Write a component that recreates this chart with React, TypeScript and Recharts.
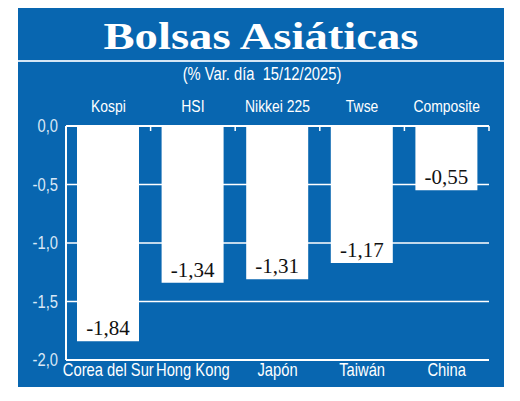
import React from 'react';
import {
  BarChart,
  Bar,
  XAxis,
  YAxis,
  CartesianGrid,
  LabelList,
} from 'recharts';

const indices = ['Kospi', 'HSI', 'Nikkei 225', 'Twse', 'Composite'];
const countries = ['Corea del Sur', 'Hong Kong', 'Japón', 'Taiwán', 'China'];
const changes = [-1.84, -1.34, -1.31, -1.17, -0.55];
const yTicks = [0, -0.5, -1, -1.5, -2];

const data = indices.map((index, i) => ({
  index,
  country: countries[i],
  value: changes[i],
}));

const BLUE = '#0866b0';
const SANS = "'Liberation Sans', Arial, sans-serif";
const SERIF = "'Liberation Serif', 'DejaVu Serif', serif";
const SQUEEZE = 0.82;

const W = 520;
const H = 401;
const PLOT_LEFT = 66;
const PLOT_RIGHT = 489;
const PLOT_TOP = 126;
const PLOT_BOTTOM = 360;
const BAND = (PLOT_RIGHT - PLOT_LEFT) / indices.length;

const fmt = (v: number, d: number) => v.toFixed(d).replace('.', ',');

// condensed text: the page has no narrow font, so squeeze a regular one
function NarrowText({ x, y, size, anchor = 'middle', fill = '#ffffff', children }: any) {
  return (
    <text
      transform={`translate(${x},${y}) scale(${SQUEEZE},1)`}
      textAnchor={anchor}
      fill={fill}
      fontSize={size}
      fontFamily={SANS}
    >
      {children}
    </text>
  );
}

function TopTick(props: any) {
  const { x, payload } = props;
  return (
    <g>
      <NarrowText x={x} y={PLOT_TOP - 14} size={17}>
        {payload.value}
      </NarrowText>
      <line
        x1={x + BAND / 2}
        x2={x + BAND / 2}
        y1={PLOT_TOP}
        y2={PLOT_TOP + 5}
        stroke="#ffffff"
        strokeWidth={1.5}
      />
    </g>
  );
}

function BottomTick(props: any) {
  const { x, payload } = props;
  return (
    <NarrowText x={x} y={PLOT_BOTTOM + 16} size={18}>
      {payload.value}
    </NarrowText>
  );
}

function LeftTick(props: any) {
  const { x, y, payload } = props;
  return (
    <NarrowText x={x} y={y + 6} size={18} anchor="end" fill="#d9e8f6">
      {fmt(payload.value, 1)}
    </NarrowText>
  );
}

function ValueLabel(props: any) {
  const { x, y, width, height, value } = props;
  const bottom = Math.max(y, y + height);
  return (
    <text
      x={x + width / 2}
      y={bottom - 6}
      textAnchor="middle"
      fill="#111111"
      fontSize={21}
      fontFamily={SERIF}
    >
      {fmt(value, 2)}
    </text>
  );
}

export default function App() {
  return (
    <div style={{ position: 'relative', width: W, height: H, margin: -8 }}>
      <div
        style={{
          position: 'absolute',
          left: 18,
          top: 7,
          width: 486,
          height: 380,
          background: BLUE,
        }}
      />
      <svg
        width={W}
        height={H}
        style={{ position: 'absolute', left: 0, top: 0 }}
      >
        <text
          x={261}
          y={49}
          textAnchor="middle"
          fill="#ffffff"
          fontSize={38}
          fontWeight="bold"
          fontFamily={SERIF}
          textLength={315}
          lengthAdjust="spacingAndGlyphs"
        >
          Bolsas Asiáticas
        </text>
        <line x1={18} x2={504} y1={61} y2={61} stroke="#d5e6f5" strokeWidth={2} />
        <NarrowText x={262} y={80} size={18}>
          {'(% Var. día\u00a0\u00a015/12/2025)'}
        </NarrowText>
      </svg>
      <div style={{ position: 'absolute', left: 0, top: 0 }}>
        <BarChart
          width={W}
          height={H}
          data={data}
          margin={{ top: 96, right: W - PLOT_RIGHT, bottom: 11, left: 16 }}
        >
          <CartesianGrid
            vertical={false}
            stroke="#ffffff"
            strokeWidth={1.5}
            xAxisId="bottom"
          />
          <XAxis
            xAxisId="top"
            orientation="top"
            dataKey="index"
            height={30}
            axisLine={{ stroke: '#ffffff', strokeWidth: 2 }}
            tickLine={false}
            tick={<TopTick />}
            interval={0}
          />
          <XAxis
            xAxisId="bottom"
            dataKey="country"
            height={30}
            axisLine={{ stroke: '#ffffff', strokeWidth: 2 }}
            tickLine={false}
            tick={<BottomTick />}
            interval={0}
          />
          <YAxis
            width={50}
            domain={[-2, 0]}
            ticks={yTicks}
            interval={0}
            axisLine={{ stroke: '#ffffff', strokeWidth: 2 }}
            tickLine={false}
            tickSize={0}
            tickMargin={8}
            tick={<LeftTick />}
          />
          <Bar
            dataKey="value"
            xAxisId="bottom"
            fill="#ffffff"
            barSize={62}
            isAnimationActive={false}
          >
            <LabelList dataKey="value" content={<ValueLabel />} />
          </Bar>
        </BarChart>
      </div>
    </div>
  );
}
